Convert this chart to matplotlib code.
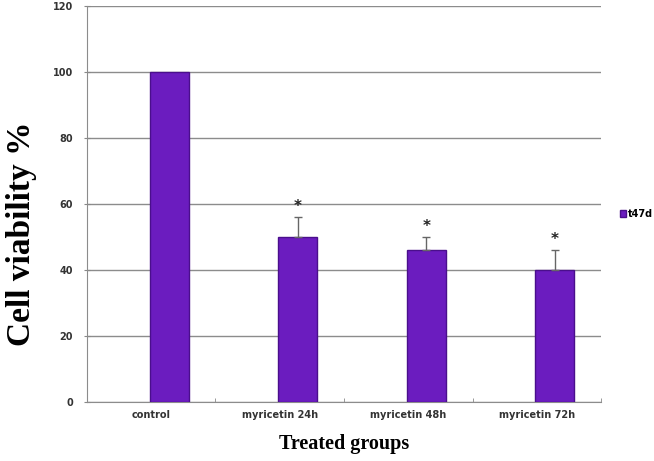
import numpy as np
import matplotlib
matplotlib.use('Agg')
import matplotlib.pyplot as plt

groups = ['control', 'myricetin 24h', 'myricetin 48h', 'myricetin 72h']
viability = [100, 50, 46, 40]
err_up = [0, 6, 4, 6]
stars = ['', '*', '*', '*']

bar_color = '#6b1cbf'
edge_color = '#4a0f8c'

fig = plt.figure(figsize=(6.54, 4.61), dpi=100)
ax = fig.add_axes([0.133, 0.128, 0.786, 0.859])

x = np.arange(len(groups))
offset = 0.14
ax.bar(x + offset, viability, width=0.3, color=bar_color, edgecolor=edge_color,
       linewidth=1, zorder=3, label='t47d')
# only the treated groups have error bars
has_err = np.array(err_up) > 0
ax.errorbar((x + offset)[has_err], np.array(viability)[has_err],
            yerr=[np.zeros(has_err.sum()), np.array(err_up)[has_err]], fmt='none',
            ecolor='#666666', elinewidth=1, capsize=3, capthick=1, zorder=4)
for xi, v, e, s in zip(x, viability, err_up, stars):
    if s:
        ax.text(xi + offset, v + e + 1.0, s, ha='center', va='bottom',
                fontsize=11, fontweight='bold', color='#222222')

ax.set_xlim(-0.5, len(groups) - 0.5)
ax.set_ylim(0, 120)
ax.set_yticks(range(0, 121, 20))
ax.set_xticks(x)
ax.set_xticklabels(groups)
ax.set_xticks(np.arange(-0.5, len(groups), 1), minor=True)
ax.tick_params(axis='x', which='major', length=0, pad=6, labelsize=7)
ax.tick_params(axis='x', which='minor', length=3, direction='in', color='#888888')
ax.tick_params(axis='y', length=4, direction='inout', color='#888888', labelsize=7, pad=8)
for lbl in ax.get_xticklabels() + ax.get_yticklabels():
    lbl.set_fontweight('bold')
    lbl.set_color('#333333')

ax.grid(axis='y', color='#8c8c8c', linewidth=1, zorder=0)
ax.set_axisbelow(True)
for side in ['top', 'right']:
    ax.spines[side].set_visible(False)
ax.spines['left'].set_color('#8c8c8c')
ax.spines['bottom'].set_color('#8c8c8c')

ax.set_ylabel('Cell viability %', fontsize=24, fontweight='bold',
              family='Liberation Serif')
ax.yaxis.set_label_coords(-0.098, 0.425)
ax.set_xlabel('Treated groups', fontsize=14.5, fontweight='bold',
              family='Liberation Serif', labelpad=10)

fig.legend(loc='center left', bbox_to_anchor=(0.935, 0.536), frameon=False,
           handlelength=0.6, handleheight=0.6, handletextpad=0.2,
           prop={'size': 7, 'weight': 'bold'})

fig.savefig('out.png', dpi=100)
